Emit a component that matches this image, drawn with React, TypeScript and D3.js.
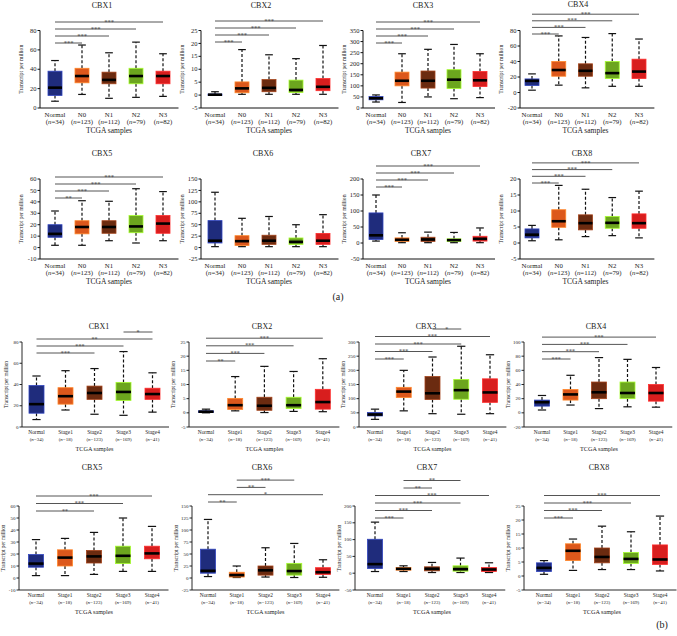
import React from "react";
import * as d3 from "d3";

// ---------- DATA ----------
const genes = ["CBX1", "CBX2", "CBX3", "CBX4", "CBX5", "CBX6", "CBX7", "CBX8"];

const groupsA = ["Normal", "N0", "N1", "N2", "N3"];
const countsA = [34, 123, 112, 79, 82];
const groupsB = ["Normal", "Stage1", "Stage2", "Stage3", "Stage4"];
const countsB = [34, 18, 123, 169, 41];

const groupColors = ["#1f2c7c", "#dc581c", "#6b2b10", "#6ca51e", "#d81e1e"];

// [min, max, step] of each y axis
const yDomainsA: number[][] = [
  [0, 80, 20], [-5, 25, 5], [0, 350, 50], [-20, 80, 20],
  [-10, 60, 10], [-25, 150, 25], [-50, 200, 50], [-5, 20, 5],
];
const yDomainsB: number[][] = [
  [0, 80, 20], [-5, 25, 5], [0, 300, 50], [-20, 100, 20],
  [-10, 60, 10], [-25, 150, 25], [-50, 200, 50], [-5, 25, 5],
];

// box stats per group: [lower whisker, q1, median, q3, upper whisker]
const statsA: number[][][] = [
  [[7, 13, 21, 38, 49], [14, 26, 33, 41, 65], [10, 25, 29, 37, 57], [11, 25, 33, 41, 68], [12, 25, 33, 38, 56]],
  [[0, 0.05, 0.15, 0.4, 1.3], [0.3, 0.9, 2.6, 5.1, 17.6], [0.3, 1.3, 2.8, 6, 15.6], [0.3, 1, 2, 5.8, 14.1], [0.3, 1.7, 3.2, 6.4, 19.2]],
  [[27, 37, 44, 52, 59], [25, 100, 123, 162, 245], [50, 90, 123, 167, 265], [42, 88, 128, 173, 287], [47, 97, 125, 165, 245]],
  [[3, 9, 15, 17.5, 24], [9.5, 21, 29, 40, 73], [6, 21, 28, 37, 71], [8, 18, 25, 40, 76], [8, 18, 27, 43, 69]],
  [[2, 9, 12, 20, 32], [2, 12, 18, 23.5, 41], [6, 12.5, 18, 23.5, 40.5], [4, 13, 18.5, 28, 51.5], [6, 12.5, 21, 28, 49]],
  [[2, 10, 15, 59, 121], [2, 4.5, 14, 26, 64], [2, 7, 15, 27, 68], [2, 7, 12.5, 21, 50], [2, 7, 15, 31, 72]],
  [[6, 11, 24, 94, 150], [1, 5, 10, 16, 32], [1, 5, 11, 18, 34], [1, 5, 9, 13, 33], [1, 6, 13, 21, 47]],
  [[0.7, 1.6, 2.6, 4.4, 5.5], [1, 4.9, 6.8, 10.4, 18], [2, 4.1, 6.2, 8.8, 16.8], [2.3, 4.6, 6.3, 8.3, 14.2], [1.6, 4.6, 6.2, 9.1, 16.2]],
];
const statsB: number[][][] = [
  [[7, 13, 21.5, 39, 48], [16, 21.5, 29, 37, 53], [12, 26, 32, 38.5, 55], [11, 25, 33, 42, 71], [14, 26, 31, 36.5, 51]],
  [[0, 0.2, 0.4, 0.7, 1.3], [0.7, 1.2, 2.7, 5.1, 12.8], [0.1, 0.9, 2.5, 5.5, 16.4], [0.5, 1.5, 2.7, 5.5, 14.6], [0.4, 1.3, 3.8, 8.3, 19.1]],
  [[27, 39, 44, 51, 63], [57, 104, 125, 140, 200], [47, 97, 119, 178, 247], [45, 98, 130, 168, 285], [47, 87, 122, 170, 255]],
  [[4, 9.5, 15, 18, 24.5], [11, 18, 26, 33, 53], [6, 20, 29, 43.5, 78], [8.5, 20, 28, 43.5, 75.5], [8, 16.5, 28, 40, 64]],
  [[2, 9, 12, 19.5, 32], [2, 10, 17, 23.5, 33], [3, 12.5, 18, 23, 38], [5.5, 12, 18.5, 26.5, 50], [5.5, 16, 20.5, 26.5, 43]],
  [[3, 10, 15, 60, 122], [1, 2, 6, 12, 25], [2, 6, 16, 25, 63], [1, 6, 14.5, 30.5, 72], [1.5, 7.5, 12, 21.5, 38]],
  [[5, 14, 27, 101, 152], [5, 9, 13, 17, 22], [2, 7, 13, 19, 32], [2, 6, 12, 22, 45], [2, 5, 11, 17, 31]],
  [[0.6, 1.6, 2.9, 4.7, 5.5], [2, 5.5, 9, 11.5, 13.2], [2.3, 4.7, 6.8, 10, 17.8], [2.3, 4.5, 6.1, 8.4, 15.8], [1.8, 4.1, 5.9, 11.1, 21.4]],
];

// significance brackets, bottom to top: [from group, to group, label]
const allVsNormal3: (number | string)[][] = [[0, 1, "***"], [0, 2, "***"], [0, 3, "***"], [0, 4, "***"]];
const sigA: (number | string)[][][] = [
  allVsNormal3, allVsNormal3, allVsNormal3, allVsNormal3,
  [[0, 1, "**"], [0, 2, "***"], [0, 3, "***"], [0, 4, "***"]],
  [],
  allVsNormal3, allVsNormal3,
];
const sigB: (number | string)[][][] = [
  [[0, 2, "***"], [0, 3, "***"], [0, 4, "**"], [3, 4, "*"]],
  [[0, 1, "**"], [0, 2, "***"], [0, 3, "***"], [0, 4, "***"]],
  [[0, 1, "***"], [0, 2, "***"], [0, 3, "***"], [0, 4, "***"], [2, 3, "*"]],
  allVsNormal3,
  [[0, 2, "**"], [0, 3, "***"], [0, 4, "***"]],
  [[0, 1, "**"], [0, 4, "*"], [1, 2, "**"], [1, 3, "***"]],
  [[0, 1, "***"], [0, 2, "***"], [0, 3, "***"], [0, 4, "***"], [1, 2, "**"], [1, 3, "**"]],
  allVsNormal3,
];

// ---------- LAYOUT ----------
type Lay = {
  axisX: number; first: number; step: number; yTop: number; yBot: number;
  titleX: number; titleY: number; sigBase: number; sigGap: number;
};
const layoutA: Lay[] = [
  { axisX: 40, first: 55, step: 27, yTop: 30.5, yBot: 108, titleX: 102, titleY: 8, sigBase: 43, sigGap: 7 },
  { axisX: 201, first: 215, step: 27, yTop: 30.5, yBot: 108, titleX: 261, titleY: 8, sigBase: 42, sigGap: 7 },
  { axisX: 363, first: 376, step: 26, yTop: 30.5, yBot: 108, titleX: 423, titleY: 8, sigBase: 43, sigGap: 7 },
  { axisX: 520, first: 532, step: 26.75, yTop: 30.5, yBot: 108, titleX: 578, titleY: 7, sigBase: 34, sigGap: 6.6 },
  { axisX: 40, first: 55, step: 27, yTop: 179, yBot: 259, titleX: 102, titleY: 156, sigBase: 198, sigGap: 7 },
  { axisX: 201, first: 215, step: 27, yTop: 179, yBot: 259, titleX: 263, titleY: 156, sigBase: 198, sigGap: 7 },
  { axisX: 363, first: 376, step: 26, yTop: 179, yBot: 259, titleX: 421, titleY: 156, sigBase: 187, sigGap: 7 },
  { axisX: 520, first: 532, step: 26.75, yTop: 179, yBot: 259, titleX: 582, titleY: 156, sigBase: 183, sigGap: 6.7 },
];
const layoutB: Lay[] = [
  { axisX: 22, first: 36.5, step: 29, yTop: 342, yBot: 427, titleX: 99, titleY: 329, sigBase: 353, sigGap: 7 },
  { axisX: 189, first: 206, step: 29.2, yTop: 342, yBot: 427, titleX: 262, titleY: 329, sigBase: 361, sigGap: 7.6 },
  { axisX: 359, first: 375, step: 28.75, yTop: 342, yBot: 427, titleX: 426, titleY: 329, sigBase: 359, sigGap: 7.5 },
  { axisX: 524, first: 542, step: 28.5, yTop: 342, yBot: 427, titleX: 596, titleY: 329, sigBase: 359, sigGap: 7.3 },
  { axisX: 19, first: 36, step: 29, yTop: 506, yBot: 590, titleX: 92, titleY: 470, sigBase: 511, sigGap: 7.5 },
  { axisX: 192, first: 208, step: 28.75, yTop: 506, yBot: 590, titleX: 262, titleY: 470, sigBase: 502, sigGap: 7.3 },
  { axisX: 355, first: 375, step: 28.5, yTop: 506, yBot: 590, titleX: 427, titleY: 470, sigBase: 518, sigGap: 7.5 },
  { axisX: 524, first: 544, step: 29, yTop: 506, yBot: 590, titleX: 599, titleY: 470, sigBase: 518, sigGap: 7.5 },
];

type Sty = {
  tickFont: number; catFont: number; countFont: number; axisTitleFont: number; yLabelFont: number;
  titleFont: number; boxW: number; sigFont: number; yLabelDx: number;
  catDy: number; countDy: number; axisTitleDy: number; axisW: number;
};
const styleA: Sty = {
  tickFont: 6.5, catFont: 6.8, countFont: 6.8, axisTitleFont: 7.5, yLabelFont: 5.6, titleFont: 8,
  boxW: 14, sigFont: 6.5, yLabelDx: -17, catDy: 8.5, countDy: 15.5, axisTitleDy: 25, axisW: 1,
};
const styleB: Sty = {
  tickFont: 5, catFont: 5.4, countFont: 5, axisTitleFont: 6.2, yLabelFont: 5.4, titleFont: 8,
  boxW: 15, sigFont: 6.2, yLabelDx: -14.5, catDy: 7, countDy: 13.5, axisTitleDy: 23.5, axisW: 0.9,
};

const FONT = "'Liberation Serif', 'DejaVu Serif', serif";

function Panel(props: {
  gene: string; groups: string[]; counts: number[]; domain: number[];
  stats: number[][]; sigs: (number | string)[][]; L: Lay; S: Sty;
}) {
  const { gene, groups, counts, domain, stats, sigs, L, S } = props;
  const [lo, hi, st] = domain;
  const y = d3.scaleLinear().domain([lo, hi]).range([L.yBot, L.yTop]);
  const x = d3.scalePoint<string>().domain(groups).range([L.first, L.first + L.step * (groups.length - 1)]);
  const ticks = d3.range(lo, hi + st / 2, st);
  const xEnd = (x(groups[groups.length - 1]) as number) + L.step / 2 + 2;
  const mid = (x(groups[2]) as number);
  const bw = S.boxW;
  const capW = bw * 0.55;

  return (
    <g fontFamily={FONT}>
      <text x={L.titleX} y={L.titleY} fontSize={S.titleFont} textAnchor="middle" fill="#222">{gene}</text>
      {/* y axis */}
      <line x1={L.axisX} x2={L.axisX} y1={y(lo)} y2={y(hi)} stroke="#111" strokeWidth={S.axisW} />
      {ticks.map((t) => (
        <g key={t}>
          <line x1={L.axisX - 2.5} x2={L.axisX} y1={y(t)} y2={y(t)} stroke="#111" strokeWidth={S.axisW} />
          <text x={L.axisX - 3.5} y={y(t)} dy="0.33em" fontSize={S.tickFont} textAnchor="end" fill="#222">{String(t)}</text>
        </g>
      ))}
      {/* x axis */}
      <line x1={L.axisX} x2={xEnd} y1={y(lo)} y2={y(lo)} stroke="#111" strokeWidth={S.axisW} />
      <text
        transform={`translate(${L.axisX + S.yLabelDx},${(L.yTop + L.yBot) / 2}) rotate(-90)`}
        fontSize={S.yLabelFont} textAnchor="middle" fill="#222"
      >Transcript per million</text>
      {/* boxes */}
      {groups.map((g, i) => {
        const cx = x(g) as number;
        const [mn, q1, md, q3, mx] = stats[i];
        const col = groupColors[i];
        const stroke = d3.color(col)!.brighter(1.2).formatHex();
        return (
          <g key={g}>
            <line x1={cx} x2={cx} y1={y(q3)} y2={y(mx)} stroke="#111" strokeWidth={1.2} strokeDasharray="3,2" />
            <line x1={cx} x2={cx} y1={y(q1)} y2={y(mn)} stroke="#111" strokeWidth={1.2} strokeDasharray="3,2" />
            <line x1={cx - capW / 2} x2={cx + capW / 2} y1={y(mx)} y2={y(mx)} stroke="#111" strokeWidth={1.2} />
            <line x1={cx - capW / 2} x2={cx + capW / 2} y1={y(mn)} y2={y(mn)} stroke="#111" strokeWidth={1.2} />
            <rect x={cx - bw / 2} y={y(q3)} width={bw} height={Math.max(1.5, y(q1) - y(q3))} fill={col} stroke={stroke} strokeWidth={0.8} />
            <line x1={cx - bw / 2} x2={cx + bw / 2} y1={y(md)} y2={y(md)} stroke="#000" strokeWidth={2.6} />
            <text x={cx} y={L.yBot + S.catDy} fontSize={S.catFont} textAnchor="middle" fill="#222">{g}</text>
            <text x={cx} y={L.yBot + S.countDy} fontSize={S.countFont} textAnchor="middle" fill="#222">
              (<tspan fontStyle="italic">n</tspan>={counts[i]})
            </text>
          </g>
        );
      })}
      <text x={mid} y={L.yBot + S.axisTitleDy} fontSize={S.axisTitleFont} textAnchor="middle" fill="#222">TCGA samples</text>
      {/* significance brackets */}
      {sigs.map((s, k) => {
        const a = x(groups[s[0] as number]) as number;
        const b = x(groups[s[1] as number]) as number;
        const yy = L.sigBase - k * L.sigGap;
        return (
          <g key={k}>
            <line x1={a} x2={b} y1={yy} y2={yy} stroke="#555" strokeWidth={1} />
            <text x={(a + b) / 2} y={yy + 1.6} fontSize={S.sigFont} textAnchor="middle" fill="#333">{s[2] as string}</text>
          </g>
        );
      })}
    </g>
  );
}

export default function App() {
  return (
    <svg width={677} height={636} style={{ position: "absolute", left: 0, top: 0, background: "#fff" }}>
      <rect width={677} height={636} fill="#fff" />
      {genes.map((g, i) => (
        <Panel key={"a" + g} gene={g} groups={groupsA} counts={countsA} domain={yDomainsA[i]}
          stats={statsA[i]} sigs={sigA[i]} L={layoutA[i]} S={styleA} />
      ))}
      {genes.map((g, i) => (
        <Panel key={"b" + g} gene={g} groups={groupsB} counts={countsB} domain={yDomainsB[i]}
          stats={statsB[i]} sigs={sigB[i]} L={layoutB[i]} S={styleB} />
      ))}
      <text x={338} y={300} fontSize={10} fontFamily={FONT} textAnchor="middle" fill="#222">(a)</text>
      <text x={662} y={628} fontSize={10} fontFamily={FONT} textAnchor="middle" fill="#222">(b)</text>
    </svg>
  );
}
